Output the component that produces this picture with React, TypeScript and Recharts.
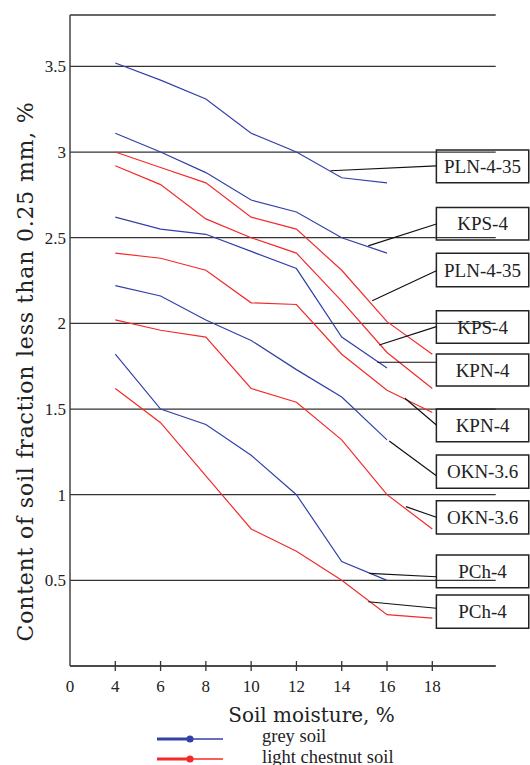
import React from "react";
import {
  CartesianGrid,
  Line,
  LineChart,
  ReferenceArea,
  ReferenceLine,
  XAxis,
  YAxis
} from "recharts";

// soil moisture, % (x positions are the tick index, the axis is drawn evenly spaced)
const xTickLabels = [0, 4, 6, 8, 10, 12, 14, 16, 18];
const moisture = [4, 6, 8, 10, 12, 14, 16, 18];
const yTicks = [0.5, 1, 1.5, 2, 2.5, 3, 3.5];

// grey soil (blue), 4..16 %
const greyPLN = [3.52, 3.42, 3.31, 3.11, 3.0, 2.85, 2.82];
const greyKPS = [3.11, 3.0, 2.88, 2.72, 2.65, 2.5, 2.41];
const greyKPN = [2.62, 2.55, 2.52, 2.42, 2.32, 1.92, 1.74];
const greyOKN = [2.22, 2.16, 2.02, 1.9, 1.73, 1.57, 1.32];
const greyPCh = [1.82, 1.5, 1.41, 1.23, 1.0, 0.61, 0.5];

// light chestnut soil (red), 4..18 %
const chestPLN = [3.0, 2.91, 2.82, 2.62, 2.55, 2.31, 2.01, 1.82];
const chestKPS = [2.92, 2.81, 2.61, 2.5, 2.41, 2.13, 1.83, 1.62];
const chestKPN = [2.41, 2.38, 2.31, 2.12, 2.11, 1.82, 1.61, 1.48];
const chestOKN = [2.02, 1.96, 1.92, 1.62, 1.54, 1.32, 1.0, 0.8];
const chestPCh = [1.62, 1.42, 1.11, 0.8, 0.67, 0.5, 0.3, 0.28];

// callout boxes: text, top and bottom in % units
const boxLabels = ["PLN-4-35", "KPS-4", "PLN-4-35", "KPS-4", "KPN-4", "KPN-4", "OKN-3.6", "OKN-3.6", "PCh-4", "PCh-4"];
const boxTop = [3.012, 2.677, 2.409, 2.074, 1.821, 1.5, 1.232, 0.965, 0.648, 0.414];
const boxBottom = [2.821, 2.487, 2.214, 1.884, 1.634, 1.309, 1.037, 0.77, 0.457, 0.22];
// leader lines: start on the curve -> end at the box edge
const leaderFromX = [5.755, 6.585, 6.673, 6.828, 6.784, 7.395, 7.049, 7.417, 6.607, 6.585];
const leaderFromY = [2.891, 2.452, 2.132, 1.874, 1.773, 1.563, 1.313, 0.93, 0.541, 0.375];
const leaderToY = [2.919, 2.58, 2.307, 1.981, 1.773, 1.407, 1.111, 0.868, 0.521, 0.337];
const boxLeft = 8.09;
const boxRight = 10.13;

const BLUE = "#3340a8";
const RED = "#f42a2a";
const INK = "#222";
const SERIF = "'Liberation Serif', serif";
const TITLE_FONT = "'DejaVu Serif', serif";

const data = moisture.map((m, i) => ({
  pos: xTickLabels.indexOf(m),
  greyPLN: greyPLN[i],
  greyKPS: greyKPS[i],
  greyKPN: greyKPN[i],
  greyOKN: greyOKN[i],
  greyPCh: greyPCh[i],
  chestPLN: chestPLN[i],
  chestKPS: chestKPS[i],
  chestKPN: chestKPN[i],
  chestOKN: chestOKN[i],
  chestPCh: chestPCh[i]
}));

const greyKeys = ["greyPLN", "greyKPS", "greyKPN", "greyOKN", "greyPCh"];
const chestKeys = ["chestPLN", "chestKPS", "chestKPN", "chestOKN", "chestPCh"];

function XTick(props: any) {
  const { x, y, payload } = props;
  const label = xTickLabels[payload.value];
  return (
    <g>
      {label !== 0 && <line x1={x} x2={x} y1={y - 5} y2={y + 5} stroke="#333" strokeWidth={1.3} />}
      <text x={x} y={y + 26} textAnchor="middle" fill={INK} fontSize={17} fontFamily={SERIF}>
        {label}
      </text>
    </g>
  );
}

function YTick(props: any) {
  const { x, y, payload } = props;
  return (
    <text x={x} y={y + 6} textAnchor="end" fill={INK} fontSize={17} fontFamily={SERIF}>
      {payload.value}
    </text>
  );
}

function YTitle() {
  return (
    <text
      transform="translate(33, 371.5) rotate(-90)"
      textAnchor="middle"
      fill={INK}
      fontSize={22}
      letterSpacing={0.8}
      fontFamily={TITLE_FONT}
    >
      Content of soil fraction less than 0.25 mm, %
    </text>
  );
}

// x-axis title plus the legend underneath it
function XTitle() {
  return (
    <g>
      <text x={311.5} y={722} textAnchor="middle" fill={INK} fontSize={20} fontFamily={TITLE_FONT}>
        Soil moisture, %
      </text>
      <line x1={157} x2={190} y1={739} y2={739} stroke={BLUE} strokeWidth={3} />
      <line x1={190} x2={223} y1={739} y2={739} stroke={BLUE} strokeWidth={1.3} />
      <circle cx={190} cy={739} r={3.6} fill={BLUE} />
      <text x={262} y={741.5} fill={INK} fontSize={18.5} fontFamily={SERIF}>
        grey soil
      </text>
      <line x1={157} x2={190} y1={759} y2={759} stroke={RED} strokeWidth={3} />
      <line x1={190} x2={223} y1={759} y2={759} stroke={RED} strokeWidth={1.3} />
      <circle cx={190} cy={759} r={3.6} fill={RED} />
      <text x={262} y={762.5} fill={INK} fontSize={18.5} fontFamily={SERIF}>
        light chestnut soil
      </text>
    </g>
  );
}

export default function App() {
  return (
    <div style={{ position: "absolute", left: 0, top: 0, width: 530, height: 765, background: "#fff" }}>
      <LineChart width={530} height={765} data={data} margin={{ top: 15, right: 34.3, left: 0, bottom: 0 }}>
        <CartesianGrid horizontal vertical={false} stroke="#333" strokeWidth={1.3} />
        <XAxis
          type="number"
          dataKey="pos"
          domain={[0, 9.4]}
          ticks={[0, 1, 2, 3, 4, 5, 6, 7, 8]}
          allowDataOverflow
          height={99}
          tickSize={0}
          tickMargin={0}
          tickLine={false}
          axisLine={{ stroke: "#444", strokeWidth: 1.5 }}
          tick={<XTick />}
          label={<XTitle />}
        />
        <YAxis
          type="number"
          domain={[0, 3.8]}
          ticks={yTicks}
          allowDataOverflow
          width={70}
          tickSize={0}
          tickMargin={4}
          tickLine={false}
          axisLine={{ stroke: "#444", strokeWidth: 1.5 }}
          tick={<YTick />}
          label={<YTitle />}
        />
        {greyKeys.map((k) => (
          <Line
            key={k}
            type="linear"
            dataKey={k}
            stroke={BLUE}
            strokeWidth={1.2}
            dot={false}
            isAnimationActive={false}
          />
        ))}
        {chestKeys.map((k) => (
          <Line
            key={k}
            type="linear"
            dataKey={k}
            stroke={RED}
            strokeWidth={1.2}
            dot={false}
            isAnimationActive={false}
          />
        ))}
        {boxLabels.map((text, i) => (
          <ReferenceLine
            key={`leader-${i}`}
            segment={[
              { x: leaderFromX[i], y: leaderFromY[i] },
              { x: boxLeft, y: leaderToY[i] }
            ]}
            stroke="#111"
            strokeWidth={1.2}
            ifOverflow="visible"
          />
        ))}
        {boxLabels.map((text, i) => (
          <ReferenceArea
            key={`box-${i}`}
            x1={boxLeft}
            x2={boxRight}
            y1={boxBottom[i]}
            y2={boxTop[i]}
            fill="none"
            fillOpacity={0}
            stroke="#222"
            strokeWidth={1.5}
            strokeOpacity={1}
            ifOverflow="visible"
            label={{ value: text, position: "center", fill: INK, fontSize: 19, fontFamily: SERIF }}
          />
        ))}
      </LineChart>
    </div>
  );
}
